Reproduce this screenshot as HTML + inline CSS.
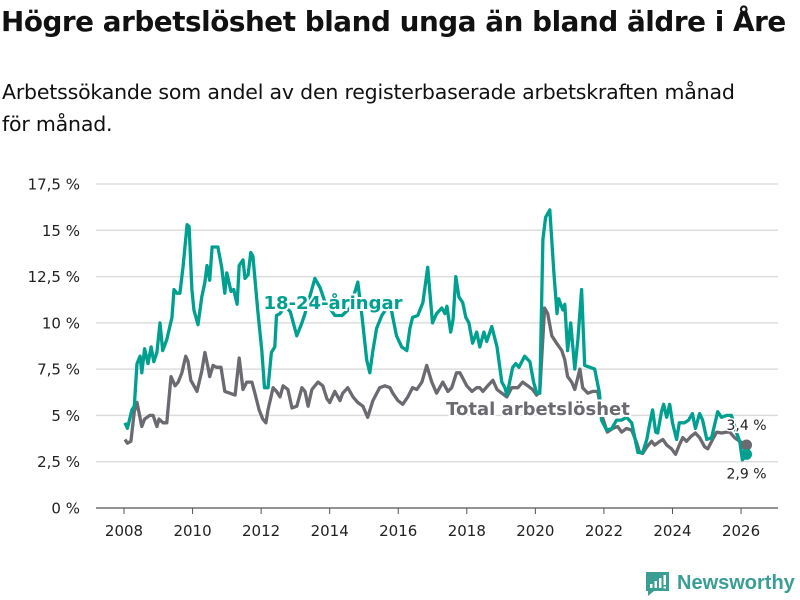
<!DOCTYPE html>
<html><head><meta charset="utf-8">
<style>
body{margin:0;background:#fff;width:800px;height:600px;overflow:hidden;font-family:"DejaVu Sans","Liberation Sans",sans-serif;color:#111}
#title{position:absolute;left:1px;top:5px;font-size:27.8px;font-weight:bold;letter-spacing:-0.45px;margin:0;white-space:nowrap}
#sub{position:absolute;left:2px;top:76px;font-size:20.5px;line-height:32px;width:798px;letter-spacing:-0.2px;white-space:nowrap}
svg{position:absolute;left:0;top:0}
</style></head><body>
<h1 id="title">Högre arbetslöshet bland unga än bland äldre i Åre</h1>
<div id="sub">Arbetssökande som andel av den registerbaserade arbetskraften månad<br>för månad.</div>
<svg id="chart" width="800" height="600"></svg>
<script>
const yTicks=[0,2.5,5,7.5,10,12.5,15,17.5];
const yTickLabels=["0 %","2,5 %","5 %","7,5 %","10 %","12,5 %","15 %","17,5 %"];
const xTicks=[2008,2010,2012,2014,2016,2018,2020,2022,2024,2026];
const youthDates=[2008.03,2008.1,2008.23,2008.3,2008.38,2008.47,2008.52,2008.6,2008.7,2008.79,2008.87,2008.96,2009.05,2009.13,2009.25,2009.4,2009.46,2009.54,2009.63,2009.72,2009.84,2009.9,2009.98,2010.04,2010.16,2010.27,2010.36,2010.42,2010.5,2010.57,2010.74,2010.85,2010.94,2011.0,2011.12,2011.2,2011.3,2011.36,2011.47,2011.53,2011.62,2011.7,2011.76,2011.9,2012.02,2012.1,2012.2,2012.3,2012.4,2012.45,2012.55,2012.7,2012.85,2013.04,2013.19,2013.28,2013.57,2013.72,2013.85,2014.0,2014.15,2014.36,2014.6,2014.82,2014.94,2015.08,2015.17,2015.26,2015.37,2015.52,2015.67,2015.76,2015.84,2015.95,2016.1,2016.25,2016.34,2016.42,2016.57,2016.72,2016.86,2017.0,2017.12,2017.27,2017.36,2017.42,2017.53,2017.6,2017.68,2017.77,2017.88,2017.97,2018.06,2018.17,2018.29,2018.38,2018.5,2018.58,2018.73,2018.88,2019.02,2019.11,2019.17,2019.34,2019.43,2019.52,2019.69,2019.84,2019.95,2020.04,2020.13,2020.22,2020.3,2020.42,2020.54,2020.63,2020.68,2020.8,2020.86,2020.94,2021.03,2021.15,2021.24,2021.35,2021.44,2021.59,2021.73,2021.87,2021.93,2022.08,2022.23,2022.37,2022.52,2022.66,2022.81,2022.9,2022.99,2023.13,2023.25,2023.33,2023.42,2023.51,2023.57,2023.68,2023.74,2023.83,2023.92,2024.0,2024.12,2024.2,2024.35,2024.47,2024.58,2024.67,2024.79,2024.88,2025.0,2025.14,2025.23,2025.32,2025.43,2025.58,2025.72,2025.87,2025.96,2026.04,2026.16];
const youthValues=[4.6,4.3,5.3,5.5,7.8,8.2,7.3,8.6,7.8,8.7,7.9,8.4,10.0,8.5,9.1,10.3,11.8,11.6,11.6,13.0,15.3,15.2,11.8,10.7,9.9,11.4,12.2,13.1,12.3,14.1,14.1,13.0,11.6,12.7,11.7,11.8,11.0,13.1,13.4,12.4,12.6,13.8,13.6,10.7,8.5,6.5,6.5,8.4,8.7,10.4,10.5,10.9,10.6,9.3,10.0,10.5,12.4,11.9,11.2,10.8,10.4,10.4,10.8,12.2,10.4,8.0,7.3,8.5,9.7,10.4,10.8,11.1,10.3,9.3,8.7,8.5,9.7,10.3,10.4,11.1,13.0,10.0,10.5,10.8,10.5,10.9,9.5,10.2,12.5,11.4,11.1,10.3,10.0,8.9,9.5,8.7,9.5,9.0,9.8,8.7,6.8,6.5,6.1,7.6,7.8,7.6,8.2,7.9,6.8,6.2,6.2,14.5,15.7,16.1,12.7,10.5,11.3,10.7,11.0,8.5,10.0,7.5,9.1,11.8,7.7,7.6,7.5,6.2,4.75,4.2,4.3,4.75,4.75,4.9,4.6,3.8,3.0,3.0,3.7,4.5,5.3,4.1,4.05,5.2,5.6,4.9,5.6,4.6,3.7,4.6,4.6,4.75,5.1,4.3,5.1,4.75,3.7,3.8,4.5,5.2,4.9,5.0,5.0,4.05,3.6,2.6,2.9];
const totalDates=[2008.03,2008.1,2008.2,2008.3,2008.38,2008.52,2008.6,2008.75,2008.85,2008.96,2009.02,2009.14,2009.25,2009.37,2009.49,2009.58,2009.69,2009.8,2009.87,2009.95,2010.07,2010.13,2010.27,2010.36,2010.45,2010.5,2010.6,2010.7,2010.83,2010.94,2011.09,2011.24,2011.36,2011.47,2011.58,2011.73,2011.82,2011.94,2012.05,2012.14,2012.2,2012.35,2012.45,2012.55,2012.64,2012.78,2012.9,2013.04,2013.19,2013.28,2013.37,2013.48,2013.66,2013.8,2013.92,2014.0,2014.15,2014.3,2014.38,2014.53,2014.68,2014.82,2014.97,2015.11,2015.26,2015.46,2015.61,2015.76,2015.84,2015.99,2016.13,2016.28,2016.42,2016.54,2016.69,2016.83,2016.98,2017.12,2017.3,2017.45,2017.56,2017.7,2017.8,2018.0,2018.15,2018.29,2018.38,2018.47,2018.61,2018.76,2018.88,2019.02,2019.17,2019.31,2019.49,2019.63,2019.78,2019.92,2020.04,2020.13,2020.27,2020.36,2020.48,2020.62,2020.77,2020.86,2020.94,2021.06,2021.15,2021.3,2021.38,2021.53,2021.67,2021.82,2021.96,2022.1,2022.26,2022.4,2022.52,2022.66,2022.81,2022.96,2023.04,2023.13,2023.25,2023.39,2023.48,2023.63,2023.72,2023.83,2023.97,2024.09,2024.2,2024.3,2024.41,2024.56,2024.67,2024.79,2024.94,2025.03,2025.17,2025.29,2025.43,2025.58,2025.67,2025.81,2025.96,2026.16];
const totalValues=[3.7,3.5,3.6,5.2,5.7,4.4,4.8,5.0,5.0,4.4,4.8,4.6,4.6,7.1,6.6,6.8,7.3,8.2,7.9,6.9,6.5,6.3,7.4,8.4,7.6,7.1,7.7,7.6,7.6,6.3,6.2,6.1,8.1,6.4,6.8,6.8,6.2,5.3,4.8,4.6,5.3,6.5,6.3,6.0,6.6,6.4,5.4,5.5,6.5,6.3,5.5,6.4,6.8,6.6,5.9,5.7,6.3,5.8,6.2,6.5,6.0,5.7,5.5,4.9,5.8,6.5,6.6,6.5,6.2,5.8,5.6,6.0,6.5,6.4,6.8,7.7,6.8,6.2,6.8,6.3,6.5,7.3,7.3,6.6,6.3,6.5,6.5,6.3,6.6,6.9,6.4,6.2,6.0,6.5,6.5,6.8,6.6,6.4,6.1,6.3,10.8,10.5,9.3,8.9,8.5,8.0,7.1,6.8,6.4,7.5,6.5,6.2,6.3,6.3,4.9,4.1,4.3,4.4,4.1,4.3,4.2,3.5,3.0,2.95,3.3,3.6,3.4,3.6,3.7,3.4,3.2,2.9,3.4,3.8,3.6,3.9,4.05,3.8,3.3,3.2,3.7,4.1,4.05,4.1,4.1,3.8,3.6,3.4];
const NS="http://www.w3.org/2000/svg";
const svg=document.getElementById('chart');
const x=v=>124+(v-2008)*34.28;
const y=v=>508-v*18.514;
function mk(tag,attrs,parent){const e=document.createElementNS(NS,tag);for(const k in attrs)e.setAttribute(k,attrs[k]);(parent||svg).appendChild(e);return e;}
yTicks.forEach((t,i)=>{
  const g=mk('line',{x1:96,x2:778,y1:y(t),y2:y(t),stroke:t===0?'#555':'#ddd','stroke-width':t===0?1.2:1.5});
  
  
  const l=mk('text',{x:80,y:y(t)+5.5,'text-anchor':'end','font-size':15,fill:'#222'});
  l.textContent=yTickLabels[i];
  
  
});
xTicks.forEach(t=>{
  const tk=mk('line',{x1:x(t),x2:x(t),y1:508,y2:514,stroke:'#555'});
  
  
  const l=mk('text',{x:x(t),y:536,'text-anchor':'middle','font-size':15,fill:'#222'});
  l.textContent=t;
  
  
});
function path(d,v){return d.map((t,i)=>(i?'L':'M')+x(t).toFixed(1)+','+y(v[i]).toFixed(1)).join('');}
const pt=mk('path',{d:path(totalDates,totalValues),fill:'none',stroke:'#6b6a70','stroke-width':3.3,'stroke-linejoin':'round'});


const py=mk('path',{d:path(youthDates,youthValues),fill:'none',stroke:'#00a090','stroke-width':3.3,'stroke-linejoin':'round'});


const lt=totalDates.length-1, ly=youthDates.length-1;
const dt=mk('circle',{cx:x(totalDates[lt]),cy:y(totalValues[lt]),r:5.5,fill:'#6b6a70'});


const dy=mk('circle',{cx:x(youthDates[ly]),cy:y(youthValues[ly]),r:5.5,fill:'#00a090'});


const et=mk('text',{x:x(totalDates[lt]),y:y(totalValues[lt])-15,'text-anchor':'middle','font-size':14,fill:'#222',stroke:'#fff','stroke-width':3,'paint-order':'stroke'});
et.textContent='3,4 %';


const ey=mk('text',{x:x(youthDates[ly]),y:y(youthValues[ly])+24,'text-anchor':'middle','font-size':14,fill:'#222',stroke:'#fff','stroke-width':3,'paint-order':'stroke'});
ey.textContent='2,9 %';


const sl=mk('text',{x:333,y:309,'text-anchor':'middle','font-size':18,'font-weight':'bold',fill:'#00a090',stroke:'#fff','stroke-width':4,'paint-order':'stroke'});
sl.textContent='18-24-åringar';


const tl=mk('text',{x:538,y:415,'text-anchor':'middle','font-size':18,'font-weight':'bold',fill:'#6b6a70',stroke:'#fff','stroke-width':4,'paint-order':'stroke'});
tl.textContent='Total arbetslöshet';


</script>
<svg width="800" height="600" style="position:absolute;left:0;top:0;pointer-events:none">
<path d="M646 572 h23 v19 h-15 l-6 5 v-5 h-2 z" fill="#3a9e94"/>
<rect x="650" y="584" width="2.5" height="4" fill="#fff"/><rect x="654.5" y="581" width="2.5" height="7" fill="#fff"/><rect x="659" y="578" width="2.5" height="10" fill="#fff"/><rect x="663.5" y="575" width="2.5" height="10" fill="#fff"/><rect x="663.5" y="586.5" width="2.5" height="2" fill="#fff"/>
<text x="677" y="589" font-size="20" font-weight="bold" fill="#3a9e94" font-family="Liberation Sans, sans-serif">Newsworthy</text>
</svg>
</body></html>
